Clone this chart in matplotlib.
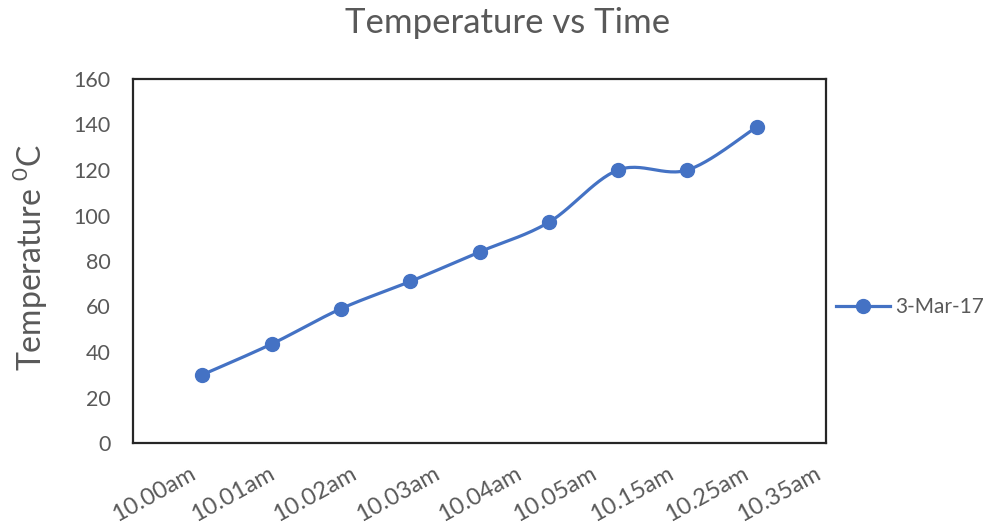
import matplotlib
matplotlib.use("Agg")
import matplotlib.pyplot as plt
import numpy as np

# readings taken on 3-Mar-17
times = ['10.00am', '10.01am', '10.02am', '10.03am', '10.04am',
         '10.05am', '10.15am', '10.25am', '10.35am']
temps = [30, 43.5, 59, 71, 84, 97, 120, 120, 139]
series_name = '3-Mar-17'

plt.rcParams['font.family'] = ['Lato', 'DejaVu Sans']
plt.rcParams['mathtext.fontset'] = 'custom'
plt.rcParams['mathtext.rm'] = 'Lato'

blue = '#4472C4'
grey = '#595959'


def smooth(x, y, steps=30):
    # bezier smoothing between points, like the office "smoothed line"
    x = np.asarray(x, float)
    y = np.asarray(y, float)
    px = np.concatenate([[x[0]], x, [x[-1]]])
    py = np.concatenate([[y[0]], y, [y[-1]]])
    xs, ys = [], []
    t = np.linspace(0, 1, steps)
    for i in range(1, len(x)):
        p0 = np.array([px[i], py[i]])
        p3 = np.array([px[i + 1], py[i + 1]])
        c1 = p0 + (p3 - np.array([px[i - 1], py[i - 1]])) / 6
        c2 = p3 - (np.array([px[i + 2], py[i + 2]]) - p0) / 6
        b = ((1 - t) ** 3)[:, None] * p0 + (3 * (1 - t) ** 2 * t)[:, None] * c1 \
            + (3 * (1 - t) * t ** 2)[:, None] * c2 + (t ** 3)[:, None] * p3
        xs.extend(b[:, 0])
        ys.extend(b[:, 1])
    return xs, ys


fig = plt.figure(figsize=(9.94, 5.28), dpi=100)
ax = fig.add_axes([133 / 994, 85 / 528, 693 / 994, 364 / 528])

xpos = np.arange(1, len(temps) + 1)
sx, sy = smooth(xpos, temps)
ax.plot(sx, sy, color=blue, lw=2.3, solid_capstyle='round')
ax.plot(xpos, temps, 'o', color=blue, ms=10, label=series_name)

ax.set_xlim(0, 10)
ax.set_ylim(0, 160)
ax.set_yticks(np.arange(0, 161, 20))
ax.tick_params(axis='y', length=0, pad=16, labelsize=15.5, labelcolor=grey)

# category labels sit a little off the points
label_pos = [0.80, 1.95, 3.13, 4.33, 5.51, 6.60, 7.70, 8.78, 9.83]
ax.set_xticks(label_pos)
ax.set_xticklabels(times, rotation=29, ha='right', va='top',
                   rotation_mode='anchor')
ax.tick_params(axis='x', length=0, pad=14, labelsize=17, labelcolor=grey)

for s in ax.spines.values():
    s.set_linewidth(1.6)
    s.set_color('#262626')

fig.text(0.511, 1 - 23 / 528, 'Temperature vs Time', ha='center', va='center',
         fontsize=25, color=grey)
fig.text(30 / 994, 1 - 257 / 528, 'Temperature $^{0}$C', ha='center',
         va='center', rotation=90, fontsize=23, color=grey)

legend_handle = plt.Line2D([], [], color=blue, lw=2.3, marker='o', ms=10)
fig.legend([legend_handle], [series_name], loc='center left',
           bbox_to_anchor=(836 / 994, 1 - 307 / 528), frameon=False,
           borderpad=0, borderaxespad=0, handlelength=2.6, handletextpad=0.25,
           fontsize=15, labelcolor=grey)

fig.savefig('out.png', dpi=100)
